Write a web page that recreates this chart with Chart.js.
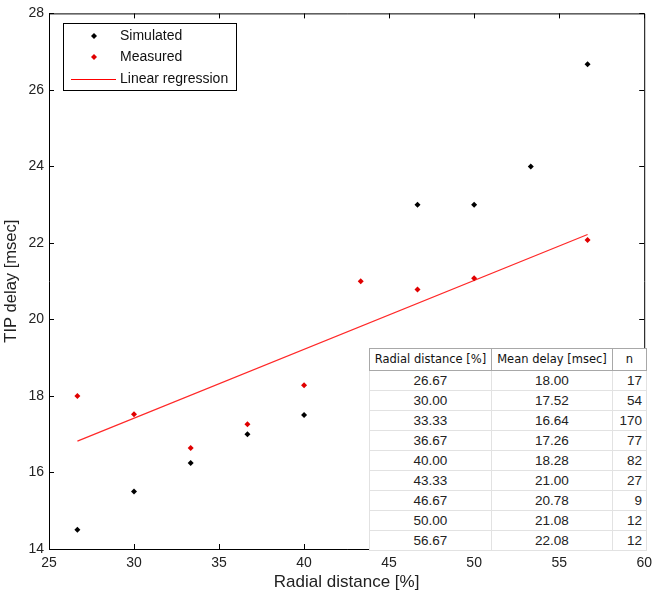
<!DOCTYPE html>
<html>
<head>
<meta charset="utf-8">
<script src="https://cdn.jsdelivr.net/npm/chart.js@4/dist/chart.umd.min.js"></script>
<style>
html,body{margin:0;padding:0;background:#fff;}
#wrap{position:relative;width:658px;height:598px;}
#c{position:absolute;left:0;top:0;}
#tbl{position:absolute;left:369px;top:348px;width:277px;height:201px;border-collapse:collapse;table-layout:fixed;background:#fff;font-family:"Liberation Sans",Arial,sans-serif;color:#222;}
#tbl td,#tbl th{border:1px solid #e2e2e2;text-align:center;padding:0;font-size:13.5px;font-weight:normal;height:19px;line-height:17px;}
#tbl th{border:1px solid #a8a8a8;font-family:"DejaVu Sans",sans-serif;font-size:11.5px;height:21px;color:#111;}
#tbl{border:1px solid #a8a8a8;}
#tbl td:last-child{text-align:right;padding-right:4px;}
</style>
</head>
<body>
<div id="wrap">
<canvas id="c" width="658" height="598"></canvas>
<table id="tbl"></table>
</div>
<script>
// Data
const radial = [26.67, 30.00, 33.33, 36.67, 40.00, 43.33, 46.67, 50.00, 56.67];
const meanDelay = [18.00, 17.52, 16.64, 17.26, 18.28, 21.00, 20.78, 21.08, 22.08];
const nCount = [17, 54, 170, 77, 82, 27, 9, 12, 12];
const simX = [26.67, 30.00, 33.33, 36.67, 40.00, 46.67, 50.00, 53.33, 56.67];
const simY = [14.5, 15.5, 16.25, 17.0, 17.5, 23.0, 23.0, 24.0, 26.67];
const regX = [26.67, 56.67];
const regY = [16.82, 22.22];
const xTicks = [25, 30, 35, 40, 45, 50, 55, 60];
const yTicks = [14, 16, 18, 20, 22, 24, 26, 28];
const tableHeader = ["Radial distance [%]", "Mean delay [msec]", "n"];
const legendLabels = ["Simulated", "Measured", "Linear regression"];

// Table
const tbl = document.getElementById('tbl');
let html = '<colgroup><col style="width:122px"><col style="width:121px"><col style="width:34px"></colgroup>';
html += '<tr>' + tableHeader.map(h => '<th>' + h + '</th>').join('') + '</tr>';
for (let i = 0; i < radial.length; i++) {
  html += '<tr><td>' + radial[i].toFixed(2) + '</td><td>' + meanDelay[i].toFixed(2) + '</td><td>' + nCount[i] + '</td></tr>';
}
tbl.innerHTML = html;

const FONT = '"Liberation Sans", Arial, sans-serif';

const framePlugin = {
  id: 'frame',
  afterDraw(chart) {
    const ctx = chart.ctx;
    const a = chart.chartArea;
    const xs = chart.scales.x, ys = chart.scales.y;
    ctx.save();
    ctx.strokeStyle = '#000';
    ctx.lineWidth = 1;
    ctx.beginPath();
    ctx.moveTo(a.left + 0.5, a.bottom + 0.5);
    ctx.lineTo(a.left + 0.5, a.top + 0.5);
    ctx.lineTo(a.right + 0.5, a.top + 0.5);
    ctx.lineTo(a.right + 0.5, a.bottom + 0.5);
    ctx.lineTo(a.left + 0.5, a.bottom + 0.5);
    ctx.stroke();
    const L = 5;
    ctx.beginPath();
    xTicks.forEach(v => {
      const p = Math.round(xs.getPixelForValue(v)) + 0.5;
      ctx.moveTo(p, a.bottom); ctx.lineTo(p, a.bottom - L);
      ctx.moveTo(p, a.top); ctx.lineTo(p, a.top + L);
    });
    yTicks.forEach(v => {
      const p = Math.round(ys.getPixelForValue(v)) + 0.5;
      ctx.moveTo(a.left, p); ctx.lineTo(a.left + L, p);
      ctx.moveTo(a.right, p); ctx.lineTo(a.right - L, p);
    });
    ctx.stroke();

    // legend
    const bx = 63, by = 23, bw = 173, bh = 67;
    ctx.fillStyle = '#fff';
    ctx.fillRect(bx, by, bw, bh);
    ctx.strokeRect(bx + 0.5, by + 0.5, bw, bh);
    ctx.font = '14px ' + FONT;
    ctx.textBaseline = 'middle';
    ctx.textAlign = 'left';
    const rows = [36, 57, 79];
    const colors = ['#000', '#e00000', '#ff0000'];
    for (let i = 0; i < 3; i++) {
      const y = rows[i];
      if (i < 2) {
        ctx.fillStyle = colors[i];
        ctx.beginPath();
        ctx.moveTo(94, y - 3); ctx.lineTo(97, y); ctx.lineTo(94, y + 3); ctx.lineTo(91, y);
        ctx.closePath(); ctx.fill();
      } else {
        ctx.strokeStyle = '#ff0000';
        ctx.beginPath();
        ctx.moveTo(71, y + 0.5); ctx.lineTo(116, y + 0.5);
        ctx.stroke();
      }
      ctx.fillStyle = '#111';
      ctx.fillText(legendLabels[i], 120, y);
    }
    ctx.restore();
  }
};

new Chart(document.getElementById('c'), {
  type: 'scatter',
  data: {
    datasets: [
      {
        label: legendLabels[0],
        data: simX.map((x, i) => ({x, y: simY[i]})),
        pointStyle: 'rectRot', radius: 3, backgroundColor: '#000', borderColor: '#000', borderWidth: 0
      },
      {
        label: legendLabels[1],
        data: radial.map((x, i) => ({x, y: meanDelay[i]})),
        pointStyle: 'rectRot', radius: 3, backgroundColor: '#e00000', borderColor: '#e00000', borderWidth: 0
      },
      {
        label: legendLabels[2],
        type: 'line',
        data: regX.map((x, i) => ({x, y: regY[i]})),
        borderColor: '#ff2828', borderWidth: 1.2, pointRadius: 0, fill: false
      }
    ]
  },
  options: {
    responsive: false,
    animation: false,
    events: [],
    layout: {padding: {left: 0, top: 11, right: 12, bottom: 0}},
    plugins: {legend: {display: false}, tooltip: {enabled: false}},
    scales: {
      x: {
        type: 'linear', min: 25, max: 60,
        afterBuildTicks: s => { s.ticks = xTicks.map(v => ({value: v})); },
        afterFit: s => { s.height = 49; },
        grid: {display: false, drawTicks: false},
        border: {display: false},
        ticks: {font: {family: FONT, size: 14}, color: '#222', padding: 6, maxRotation: 0},
        title: {display: true, text: 'Radial distance [%]', font: {family: FONT, size: 17}, color: '#222', padding: {top: 0, bottom: 5}}
      },
      y: {
        type: 'linear', min: 14, max: 28,
        afterBuildTicks: s => { s.ticks = yTicks.map(v => ({value: v})); },
        afterFit: s => { s.width = 49; },
        grid: {display: false, drawTicks: false},
        border: {display: false},
        ticks: {font: {family: FONT, size: 14}, color: '#222', padding: 5},
        title: {display: true, text: 'TIP delay [msec]', font: {family: FONT, size: 16.5}, color: '#222', padding: {top: 2, bottom: 0}}
      }
    }
  },
  plugins: [framePlugin]
});
</script>
</body>
</html>
